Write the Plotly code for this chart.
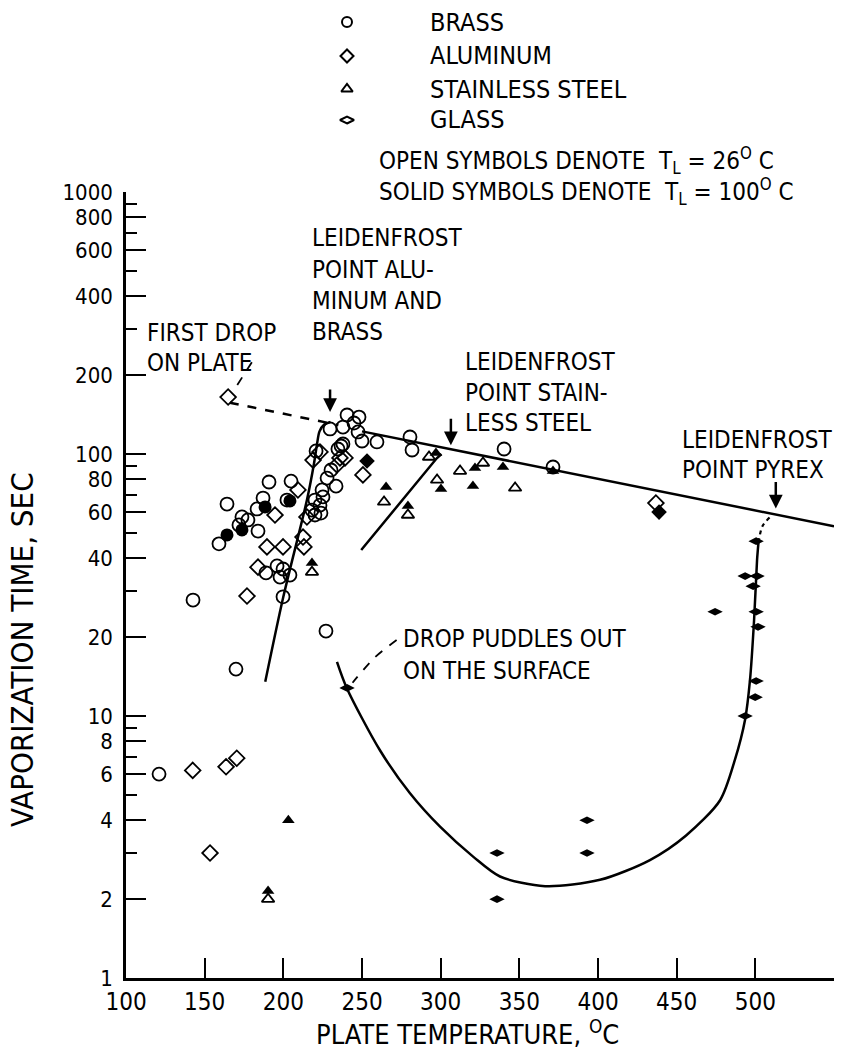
import math
import plotly.graph_objects as go

FONT = "DejaVu Sans Condensed, DejaVu Sans, sans-serif"
INK = "black"

# ---------------- measured drops: plate temperature (deg C) / vaporization time (s) ----------------
# Brass, liquid at 26 C (open circles)
brass_26_temp = [121.0, 142.6, 169.9, 159.1, 164.2, 171.8, 173.7, 177.5, 183.3, 183.9, 187.1, 190.9,
                 204.9, 202.3, 199.8, 196.0, 199.8, 197.9, 204.2, 189.0, 227.1, 220.8, 236.7, 230.3,
                 227.8, 233.5, 224.6, 225.2, 220.1, 223.3, 218.2, 223.9, 220.1, 240.5, 248.1, 237.9,
                 244.9, 229.7, 247.5, 250.0, 259.5, 237.9, 234.7, 280.5, 281.8, 340.3, 371.4]
brass_26_time = [6.0, 27.7, 15.1, 45.4, 64.4, 53.6, 57.5, 56.0, 61.7, 50.8, 67.9, 78.2,
                 78.8, 66.7, 28.5, 37.4, 36.4, 33.9, 34.5, 35.2, 21.1, 102.7, 107.3, 86.9,
                 80.9, 75.4, 72.9, 68.6, 66.7, 63.8, 61.1, 59.5, 58.5, 140.9, 138.3, 126.7,
                 131.3, 124.6, 121.4, 112.1, 111.2, 109.2, 104.5, 116.1, 103.6, 104.5, 89.2]
# Brass, liquid at 100 C (solid circles)
brass_100_temp = [164.2, 173.7, 188.4, 204.2]
brass_100_time = [49.1, 51.3, 62.8, 66.2]

# Aluminum, 26 C (open diamonds)
alum_26_temp = [142.4, 163.6, 170.4, 153.4, 164.9, 176.9, 183.9, 189.6, 199.8, 194.7, 209.3,
                212.5, 213.1, 215.0, 218.9, 223.3, 236.0, 239.2, 234.1, 250.6, 436.8]
alum_26_time = [6.2, 6.4, 6.9, 3.0, 165.0, 28.7, 37.0, 44.2, 44.2, 58.5, 72.9,
                48.2, 44.2, 57.5, 94.8, 101.8, 96.6, 96.6, 90.8, 83.2, 65.0]
# Aluminum, 100 C (solid diamonds)
alum_100_temp = [253.2, 438.8]
alum_100_time = [94.0, 60.0]

# Stainless steel, 26 C (open triangles)
steel_26_temp = [190.3, 218.2, 264.0, 279.2, 292.6, 297.7, 312.3, 326.9, 347.3]
steel_26_time = [2.0, 35.4, 65.6, 58.5, 97.4, 79.6, 86.1, 92.4, 74.2]
# Stainless steel, 100 C (solid triangles)
steel_100_temp = [203.2, 190.3, 218.2, 265.3, 279.2, 297.0, 300.2, 321.8, 320.5, 339.6, 371.4]
steel_100_time = [4.0, 2.15, 38.4, 74.8, 63.3, 100.9, 73.5, 88.5, 75.5, 89.2, 86.1]

# Glass (Pyrex), 100 C (solid flat diamonds)
glass_100_temp = [240.5, 335.8, 335.8, 393.0, 393.0, 474.4, 493.5, 500.5, 493.5, 501.1,
                  498.6, 500.5, 501.7, 500.5, 499.9]
glass_100_time = [12.8, 3.0, 2.0, 4.0, 3.0, 25.0, 10.0, 46.5, 34.2, 34.2,
                  31.3, 25.0, 21.9, 13.6, 11.8]

# ---------------- faired curves ----------------
film_temp = [250.0, 550.0]
film_time = [122.0, 53.0]
first_drop_temp = [166.0, 235.0]
first_drop_time = [157.0, 129.0]
al_brass_rise_temp = [188.5, 200.0, 215.0, 219.5, 221.5, 223.0, 226.0, 230.0]
al_brass_rise_time = [13.5, 28.5, 66.7, 92.0, 110.0, 122.0, 129.5, 132.5]
steel_rise_temp = [249.5, 297.5, 300.5]
steel_rise_time = [43.0, 96.3, 100.0]
pyrex_temp = [234.1, 240.3, 261.4, 280.5, 299.6, 320.8, 337.7, 366.4, 401.3, 433.0,
              456.0, 477.6, 487.0, 493.5, 496.6, 499.2, 501.1, 502.0]
pyrex_time = [16.1, 12.8, 7.4, 5.07, 3.78, 2.90, 2.44, 2.24, 2.37, 2.82,
              3.5, 4.77, 6.8, 9.7, 13.7, 23.2, 39.4, 46.0]
pyrex_join_temp = [502.0, 504.5, 509.4]
pyrex_join_time = [46.0, 53.0, 57.5]

# leader lines from the notes to the points they describe
first_drop_leader_temp = [180.0, 168.0]
first_drop_leader_time = [224.0, 173.0]
puddle_leader_temp = [272.0, 258.0, 244.0]
puddle_leader_time = [19.5, 16.7, 13.4]

# axis ticks
x_ticks = [100, 150, 200, 250, 300, 350, 400, 450, 500, 550]
y_ticks = [1, 2, 4, 6, 8, 10, 20, 40, 60, 80, 100, 200, 400, 600, 800, 1000]
y_minor = [3, 5, 7, 9, 30, 50, 70, 90, 300, 500, 700, 900]

materials = ["BRASS", "ALUMINUM", "STAINLESS STEEL", "GLASS"]
legend_symbols = ["circle-open", "diamond-open", "triangle-up-open", "diamond-wide-open"]
condition_lines = ["OPEN SYMBOLS DENOTE&nbsp;&nbsp;T<sub>L</sub> = 26<sup>O</sup> C",
                   "SOLID SYMBOLS DENOTE&nbsp;&nbsp;T<sub>L</sub> = 100<sup>O</sup> C"]

# ---------------- figure geometry ----------------
W, H = 853, 1051
ML, MR, MT, MB = 126, 19, 0, 73
PW, PH = W - ML - MR, H - MT - MB
HEADER = 192                      # height of the key block above the axes
main_top = 1 - HEADER / PH
X_RANGE = (100, 550)
Y_DECADES = 3


def paper_xy(t, v):
    """Position of a (temperature, time) pair in paper units."""
    return ((t - X_RANGE[0]) / (X_RANGE[1] - X_RANGE[0]),
            math.log10(v) / Y_DECADES * main_top)


def header_xy(px, py):
    """Pixel offsets in the header block (from the page's top-left) to paper units."""
    return (px - ML) / PW, (PH - py) / PH


fig = go.Figure()


def pts(tx, ty, symbol, size, filled, width=1.8):
    fig.add_trace(go.Scatter(
        x=tx, y=ty, mode="markers", cliponaxis=False,
        marker=dict(symbol=symbol, size=size, color=INK,
                    line=dict(color=INK, width=width if not filled else 0)),
        hoverinfo="skip"))


def curve(tx, ty, dash="solid", width=2.5, smooth=True):
    fig.add_trace(go.Scatter(
        x=tx, y=ty, mode="lines",
        line=dict(color=INK, width=width, dash=dash,
                  shape="spline" if smooth else "linear", smoothing=0.8),
        hoverinfo="skip"))


curve(film_temp, film_time, smooth=False)
curve(first_drop_temp, first_drop_time, dash="dash", smooth=False)
curve(al_brass_rise_temp, al_brass_rise_time)
curve(steel_rise_temp, steel_rise_time, smooth=False)
curve(pyrex_temp, pyrex_time)
curve(pyrex_join_temp, pyrex_join_time, dash="4px,4px", width=2.2)
curve(first_drop_leader_temp, first_drop_leader_time, dash="dash", width=1.8, smooth=False)
curve(puddle_leader_temp, puddle_leader_time, dash="dash", width=1.8)

pts(brass_26_temp, brass_26_time, "circle-open", 13, False)
pts(brass_100_temp, brass_100_time, "circle", 13, True)
pts(alum_26_temp, alum_26_time, "diamond-open", 12, False)
pts(alum_100_temp, alum_100_time, "diamond", 12, True)
pts(steel_26_temp, steel_26_time, "triangle-up-open", 11, False)
pts(steel_100_temp, steel_100_time, "triangle-up", 11, True)
pts(glass_100_temp, glass_100_time, "diamond-wide", 11, True)

# key symbols, drawn on a small pixel-scaled axis above the chart
key_rows = [22, 56, 89, 120]
fig.add_trace(go.Scatter(
    x=[347] * len(materials), y=key_rows, xaxis="x2", yaxis="y2", mode="markers",
    marker=dict(symbol=legend_symbols, size=10, color=INK, line=dict(color=INK, width=2)),
    hoverinfo="skip"))

annotations = []
for name, row in zip(materials, key_rows):
    hx, hy = header_xy(428, row)
    annotations.append(dict(xref="paper", yref="paper", x=hx, y=hy, text=name, showarrow=False,
                            xanchor="left", yanchor="middle",
                            font=dict(family=FONT, size=25, color=INK)))
# the two test-condition lines, set as one block
hx, hy = header_xy(377, 176)
annotations.append(dict(xref="paper", yref="paper", x=hx, y=hy, text="<br>".join(condition_lines),
                        showarrow=False, xanchor="left", yanchor="middle", align="left",
                        font=dict(family=FONT, size=24, color=INK)))

# notes inside the chart, one line each, placed at (T, time) positions
notes = [
    ("LEIDENFROST", 217.0, 665), ("POINT ALU-", 217.0, 504), ("MINUM AND", 217.0, 385),
    ("BRASS", 217.0, 293),
    ("FIRST DROP", 112.0, 290), ("ON PLATE", 112.0, 222),
    ("LEIDENFROST", 314.0, 224), ("POINT STAIN-", 314.0, 171), ("LESS STEEL", 314.0, 131),
    ("LEIDENFROST", 452.0, 113), ("POINT PYREX", 452.0, 86.9),
    ("DROP PUDDLES OUT", 275.0, 19.7), ("ON THE SURFACE", 275.0, 14.9),
]
for txt, t, v in notes:
    px, py = paper_xy(t, v)
    annotations.append(dict(xref="paper", yref="paper", x=px, y=py, text=txt, showarrow=False,
                            xanchor="left", yanchor="middle",
                            font=dict(family=FONT, size=24, color=INK)))

# arrows marking each Leidenfrost point
for t, v, length in [(229.7, 144.5, 24), (306.5, 108.0, 28), (513.0, 62.0, 28)]:
    annotations.append(dict(xref="x", yref="y", x=t, y=math.log10(v), ax=0, ay=-length,
                            text="", showarrow=True, arrowhead=2, arrowsize=1.1,
                            arrowwidth=2.5, arrowcolor=INK))

# axis titles
annotations.append(dict(xref="paper", yref="paper", x=(467 - ML) / PW, y=(PH - 1032) / PH,
                        text="PLATE TEMPERATURE, <sup>O</sup>C", showarrow=False,
                        xanchor="center", yanchor="middle",
                        font=dict(family=FONT, size=27, color=INK)))
annotations.append(dict(xref="paper", yref="paper", x=(22 - ML) / PW, y=(PH - 650) / PH,
                        text="VAPORIZATION TIME, SEC", showarrow=False, textangle=-90,
                        xanchor="center", yanchor="middle",
                        font=dict(family=FONT, size=31, color=INK)))

fig.update_layout(
    width=W, height=H, margin=dict(l=ML, r=MR, t=MT, b=MB, autoexpand=False),
    plot_bgcolor="white", paper_bgcolor="white", showlegend=False,
    annotations=annotations,
    xaxis=dict(range=list(X_RANGE), domain=[0, 1], anchor="y", tickvals=x_ticks,
               ticks="inside", ticklen=20, tickwidth=2, tickcolor=INK,
               showline=True, linecolor=INK, linewidth=2.5, showgrid=False, zeroline=False,
               tickfont=dict(family=FONT, size=24, color=INK)),
    yaxis=dict(type="log", range=[0, Y_DECADES], domain=[0, main_top], anchor="x",
               tickvals=y_ticks, ticktext=[str(v) for v in y_ticks],
               ticks="inside", ticklen=20, tickwidth=2, tickcolor=INK, ticklabelstandoff=6,
               minor=dict(tickvals=y_minor, ticks="inside", ticklen=11, tickwidth=2,
                          tickcolor=INK, showgrid=False),
               showline=True, linecolor=INK, linewidth=2.5, showgrid=False, zeroline=False,
               tickfont=dict(family=FONT, size=22, color=INK)),
    xaxis2=dict(range=[ML, W - MR], domain=[0, 1], anchor="y2", visible=False),
    yaxis2=dict(range=[HEADER, 0], domain=[main_top, 1], anchor="x2", visible=False),
)

fig.write_html("out.html")
